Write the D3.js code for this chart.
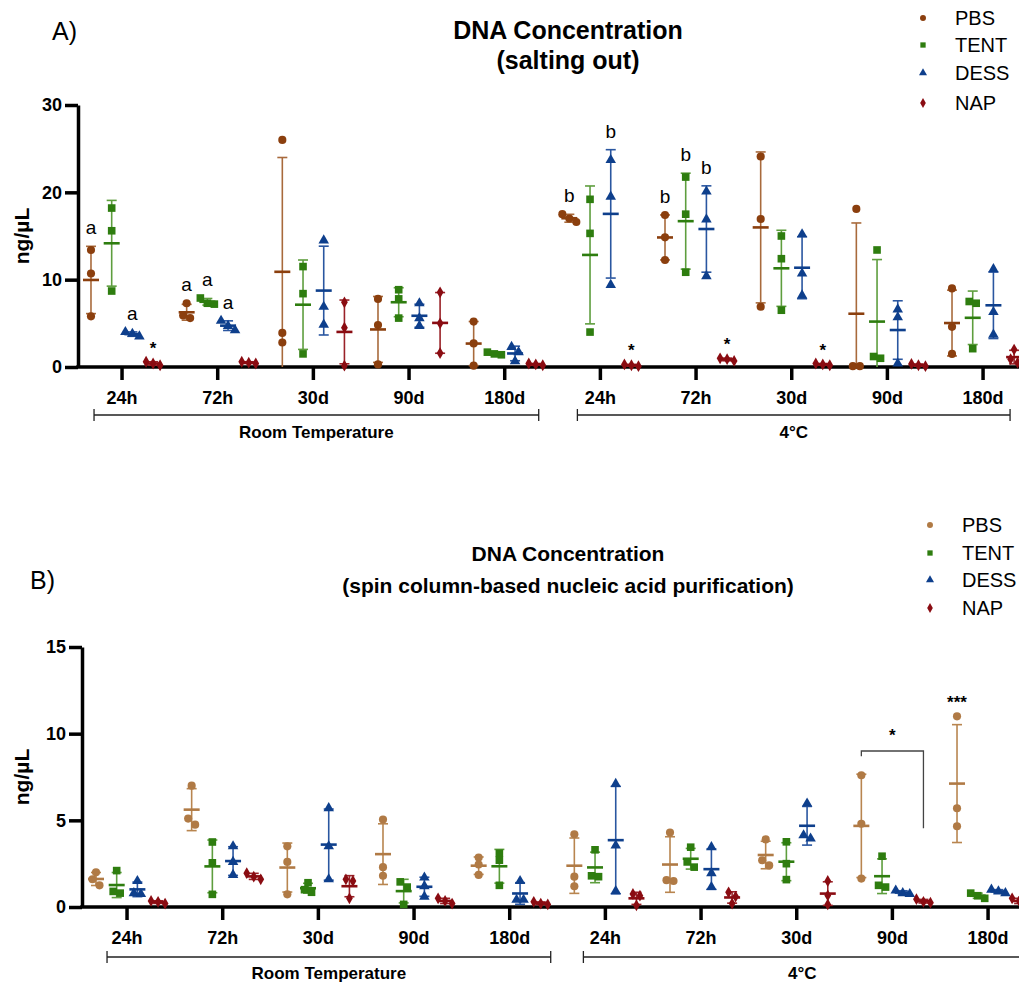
<!DOCTYPE html>
<html>
<head>
<meta charset="utf-8">
<script src="https://cdn.jsdelivr.net/npm/d3@7"></script>
<style>
  body { margin: 0; background: #fff; }
  svg { font-family: "Liberation Sans", Arial, sans-serif; }
</style>
</head>
<body>
<div id="chart"></div>
<script>
// x axis groups (storage time) and conditions
const timeLabels = ["24h", "72h", "30d", "90d", "180d", "24h", "72h", "30d", "90d", "180d"];
const conditionLabels = ["Room Temperature", "4°C"];
const seriesNames = ["PBS", "TENT", "DESS", "NAP"];

// A) salting out, ng/uL, 3 replicates per group
const saltPBS = [[13.4, 10.7, 5.8], [7.3, 5.9, 5.6], [26.0, 3.9, 2.8], [7.8, 4.8, 0.3], [5.2, 2.7, 0.15],
                 [17.5, 17.0, 16.6], [17.4, 14.85, 12.25], [24.1, 16.95, 6.9], [18.1, 0.1, 0.1], [9.0, 4.6, 1.5]];
const saltTENT = [[18.2, 15.6, 8.7], [7.9, 7.3, 7.2], [11.5, 8.4, 1.5], [8.85, 7.8, 5.6], [1.7, 1.5, 1.4],
                  [19.2, 15.3, 4.0], [21.75, 17.5, 10.85], [15.0, 12.4, 6.5], [13.4, 1.2, 1.0], [7.5, 7.3, 2.1]];
const saltDESS = [[4.0, 3.8, 3.5], [5.3, 4.7, 4.2], [14.5, 6.9, 4.85], [7.3, 5.6, 4.7], [2.3, 1.7, 0.65],
                  [23.7, 19.5, 9.4], [20.1, 16.9, 10.4], [15.2, 10.7, 8.2], [6.6, 5.7, 0.4], [11.2, 6.3, 3.7]];
const saltNAP = [[0.6, 0.4, 0.2], [0.6, 0.5, 0.4], [7.4, 4.5, 0.15], [8.55, 5.0, 1.6], [0.4, 0.3, 0.2],
                 [0.3, 0.2, 0.1], [1.0, 0.9, 0.7], [0.4, 0.3, 0.2], [0.35, 0.2, 0.1], [2.0, 0.9, 0.5]];
const saltMarks = [
  {g: 0, s: "PBS", t: "a"}, {g: 0, s: "DESS", t: "a"}, {g: 0, s: "NAP", t: "*"},
  {g: 1, s: "PBS", t: "a"}, {g: 1, s: "TENT", t: "a"}, {g: 1, s: "DESS", t: "a"},
  {g: 5, s: "PBS", t: "b"}, {g: 5, s: "DESS", t: "b"}, {g: 5, s: "NAP", t: "*"},
  {g: 6, s: "PBS", t: "b"}, {g: 6, s: "TENT", t: "b"}, {g: 6, s: "DESS", t: "b"}, {g: 6, s: "NAP", t: "*"},
  {g: 7, s: "NAP", t: "*"}
];

// B) spin column-based nucleic acid purification, ng/uL
const spinPBS = [[2.0, 1.6, 1.25], [7.0, 5.1, 4.75], [3.5, 2.6, 0.73], [5.05, 2.3, 1.8], [2.85, 2.45, 1.85],
                 [4.2, 1.75, 1.2], [4.3, 1.55, 1.5], [3.9, 2.7, 2.4], [7.6, 4.8, 1.64], [11.0, 5.7, 4.66]];
const spinTENT = [[2.1, 0.9, 0.8], [3.75, 2.55, 0.73], [1.4, 1.0, 0.85], [1.45, 1.15, 0.15], [3.1, 2.7, 1.25],
                  [3.3, 1.8, 1.75], [3.45, 2.6, 2.3], [3.76, 2.5, 1.58], [2.93, 1.25, 1.15], [0.8, 0.65, 0.5]];
const spinDESS = [[1.5, 0.8, 0.75], [3.5, 2.6, 1.85], [5.7, 3.5, 1.6], [1.7, 1.2, 0.6], [1.5, 0.42, 0.42],
                  [7.1, 3.55, 0.92], [3.45, 1.95, 1.15], [5.97, 4.14, 3.95], [0.95, 0.8, 0.75], [1.0, 0.9, 0.8]];
const spinNAP = [[0.35, 0.3, 0.2], [1.95, 1.75, 1.6], [1.6, 1.5, 0.5], [0.5, 0.35, 0.2], [0.3, 0.2, 0.15],
                 [0.75, 0.65, 0.1], [0.85, 0.6, 0.2], [1.5, 0.67, 0.15], [0.45, 0.3, 0.25], [0.5, 0.35, 0.2]];
const spinMarks = [{g: 9, s: "PBS", t: "***"}];
// significance bracket between PBS and NAP at 4°C 90d (values in ng/uL)
const spinBracket = {g: 8, from: "PBS", to: "NAP", top: 9.0, leftEnd: 8.7, rightEnd: 4.55, t: "*"};

const W = 1019, H = 984;
const groupStep = 95.67;

const svg = d3.select("#chart").append("svg")
  .attr("width", W)
  .attr("height", H);

const symbolFor = {PBS: d3.symbolCircle, TENT: d3.symbolSquare, DESS: d3.symbolTriangle, NAP: d3.symbolDiamond};
const symbolSize = {PBS: 52, TENT: 58, DESS: 48, NAP: 40};

function drawPanel(p) {
  const g = svg.append("g");

  const y = d3.scaleLinear().domain([0, p.yMax]).range([p.bottom, p.top]);
  const x = d3.scaleBand().domain(d3.range(10)).range([p.xStart, p.xStart + 10 * groupStep]);
  const xs = d3.scaleBand().domain(seriesNames).range([-41.4, 41.4]);
  const cx = (gi, s) => x(gi) + x.bandwidth() / 2 + xs(s) + xs.bandwidth() / 2;

  // titles
  g.append("text")
    .attr("x", p.panelLabelX).attr("y", p.panelLabelY)
    .style("font-size", "25px")
    .text(p.panelLabel);
  p.title.forEach((t, i) => {
    g.append("text")
      .attr("x", 568).attr("y", p.titleY[i])
      .attr("text-anchor", "middle")
      .style("font-size", p.titleSize + "px").style("font-weight", "bold")
      .text(t);
  });

  // y axis label
  g.append("text")
    .attr("transform", `translate(29, ${(p.top + p.bottom) / 2}) rotate(-90)`)
    .attr("text-anchor", "middle")
    .style("font-size", "21px").style("font-weight", "bold")
    .text("ng/µL");

  // y axis
  const yAxis = g.append("g")
    .attr("transform", `translate(${p.yAxisX},0)`)
    .call(d3.axisLeft(y).tickValues(p.ticks).tickSize(13).tickSizeOuter(0).tickPadding(3));
  yAxis.selectAll("text").style("font-size", "18px").style("font-weight", "bold").attr("fill", "#000");
  yAxis.selectAll("line, path").attr("stroke", "#000").attr("stroke-width", 3.5);

  // x axis
  const xAxis = g.append("g")
    .attr("transform", `translate(0,${p.bottom})`)
    .call(d3.axisBottom(x).tickSize(13).tickPadding(11).tickFormat(i => timeLabels[i]));
  xAxis.select(".domain").remove();
  xAxis.selectAll("text").style("font-size", "18px").style("font-weight", "bold").attr("fill", "#000");
  xAxis.selectAll("line").attr("stroke", "#000").attr("stroke-width", 3.5);
  g.append("line")
    .attr("x1", p.yAxisX - 1.75).attr("x2", W)
    .attr("y1", p.bottom).attr("y2", p.bottom)
    .attr("stroke", "#000").attr("stroke-width", 3.5);

  // condition brackets
  p.brackets.forEach((b, i) => {
    const x1 = x(b.g0) + x.bandwidth() / 2 + b.d0;
    const x2 = x(b.g1) + x.bandwidth() / 2 + b.d1;
    g.append("path")
      .attr("d", `M${x1},${p.bracketY - 6}V${p.bracketY + 6}M${x1},${p.bracketY}H${x2}M${x2},${p.bracketY - 6}V${p.bracketY + 6}`)
      .attr("fill", "none").attr("stroke", "#222").attr("stroke-width", 1.3);
    g.append("text")
      .attr("x", (x1 + x2) / 2).attr("y", p.condY)
      .attr("text-anchor", "middle")
      .style("font-size", "17px").style("font-weight", "bold")
      .text(conditionLabels[i]);
  });

  // series: error bars, points, mean lines
  seriesNames.forEach((s, si) => {
    const col = p.colors[s], ecol = p.errColors[s];
    p.data[si].forEach((vals, gi) => {
      const m = d3.mean(vals), sd = d3.deviation(vals);
      const px = cx(gi, s);
      const lo = Math.max(0, m - sd), hi = Math.min(p.yMax, m + sd);
      g.append("line")
        .attr("x1", px).attr("x2", px).attr("y1", y(lo)).attr("y2", y(hi))
        .attr("stroke", ecol).attr("stroke-width", 1.6);
      [m - sd, m + sd].forEach(v => {
        if (v < 0) return;
        g.append("line")
          .attr("x1", px - 5).attr("x2", px + 5).attr("y1", y(v)).attr("y2", y(v))
          .attr("stroke", ecol).attr("stroke-width", 1.6);
      });

      // spread points that would overlap
      const pts = vals.map(v => ({v, py: y(v)})).sort((a, b) => a.py - b.py);
      const clusters = [];
      pts.forEach(pt => {
        const last = clusters[clusters.length - 1];
        if (last && pt.py - last[last.length - 1].py < 6.5) last.push(pt);
        else clusters.push([pt]);
      });
      clusters.forEach(c => c.forEach((pt, j) => { pt.dx = (j - (c.length - 1) / 2) * 7; }));

      g.selectAll(null)
        .data(pts)
        .join("path")
        .attr("d", d3.symbol(symbolFor[s], symbolSize[s]))
        .attr("transform", d => `translate(${px + d.dx},${d.py})`)
        .attr("fill", col);

      g.append("line")
        .attr("x1", px - 8).attr("x2", px + 8).attr("y1", y(m)).attr("y2", y(m))
        .attr("stroke", col).attr("stroke-width", 2.6);
    });
  });

  // significance letters / stars
  p.marks.forEach(mk => {
    const si = seriesNames.indexOf(mk.s);
    const vals = p.data[si][mk.g];
    const top = Math.max(d3.max(vals), d3.mean(vals) + d3.deviation(vals));
    const star = mk.t.startsWith("*");
    g.append("text")
      .attr("x", cx(mk.g, mk.s)).attr("y", y(top) - (star ? 8 : 12))
      .attr("text-anchor", "middle")
      .style("font-size", star ? "17px" : "19px").style("font-weight", star ? "bold" : "normal")
      .text(mk.t);
  });

  if (p.bracket) {
    const b = p.bracket;
    const x1 = cx(b.g, b.from), x2 = cx(b.g, b.to);
    g.append("path")
      .attr("d", `M${x1},${y(b.leftEnd)}V${y(b.top)}H${x2}V${y(b.rightEnd)}`)
      .attr("fill", "none").attr("stroke", "#444").attr("stroke-width", 1.3);
    g.append("text")
      .attr("x", (x1 + x2) / 2).attr("y", y(b.top) - 10)
      .attr("text-anchor", "middle")
      .style("font-size", "17px").style("font-weight", "bold")
      .text(b.t);
  }

  // legend
  seriesNames.forEach((s, i) => {
    g.append("path")
      .attr("d", d3.symbol(symbolFor[s], 28))
      .attr("transform", `translate(${p.legendX},${p.legendY[i]})`)
      .attr("fill", p.colors[s]);
    g.append("text")
      .attr("x", p.legendX + 32).attr("y", p.legendY[i] + 7)
      .style("font-size", "20px")
      .text(s);
  });
}

drawPanel({
  panelLabel: "A)", panelLabelX: 52, panelLabelY: 40,
  title: ["DNA Concentration", "(salting out)"], titleY: [39, 69], titleSize: 25,
  top: 105, bottom: 367, yAxisX: 78, xStart: 74.2, yMax: 30, ticks: [0, 10, 20, 30],
  data: [saltPBS, saltTENT, saltDESS, saltNAP],
  colors: {PBS: "#8B3F0E", TENT: "#2E7D0F", DESS: "#0E3F8C", NAP: "#8A0C12"},
  errColors: {PBS: "#A86A3C", TENT: "#5E9E3E", DESS: "#2A56A0", NAP: "#9A2228"},
  bracketY: 415, condY: 438,
  brackets: [{g0: 0, d0: -28, g1: 4, d1: 34}, {g0: 5, d0: -23, g1: 9, d1: 27}],
  marks: saltMarks,
  legendX: 923, legendY: [18, 45, 73, 103]
});

drawPanel({
  panelLabel: "B)", panelLabelX: 30, panelLabelY: 589,
  title: ["DNA Concentration", "(spin column-based nucleic acid purification)"], titleY: [561, 593], titleSize: 21,
  top: 647, bottom: 907, yAxisX: 82, xStart: 79.2, yMax: 15, ticks: [0, 5, 10, 15],
  data: [spinPBS, spinTENT, spinDESS, spinNAP],
  colors: {PBS: "#B07A45", TENT: "#2E7D0F", DESS: "#0E3F8C", NAP: "#8A0C12"},
  errColors: {PBS: "#B8854F", TENT: "#5E9E3E", DESS: "#2A56A0", NAP: "#9A2228"},
  bracketY: 957, condY: 979,
  brackets: [{g0: 0, d0: -20, g1: 4, d1: 41}, {g0: 5, d0: -22, g1: 9, d1: 33}],
  marks: spinMarks, bracket: spinBracket,
  legendX: 930, legendY: [525, 553, 580, 608]
});
</script>
</body>
</html>
